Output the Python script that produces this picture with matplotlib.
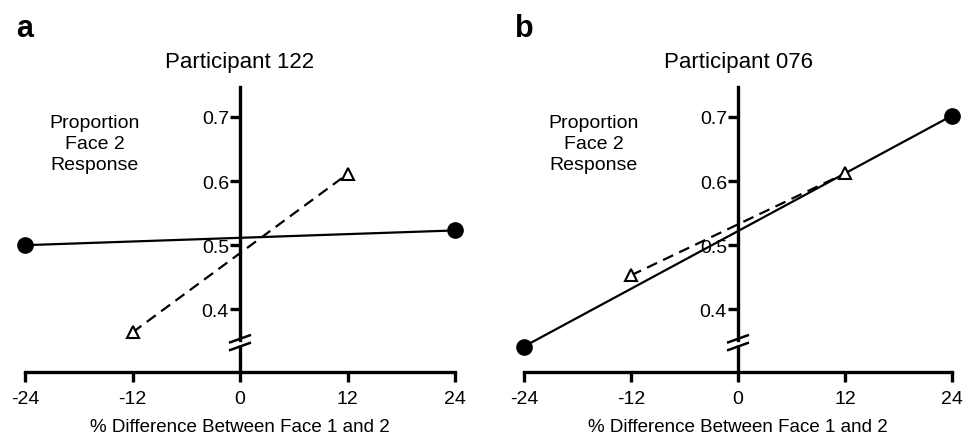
import matplotlib
matplotlib.use("Agg")
import matplotlib.pyplot as plt

plt.rcParams["font.family"] = ["Liberation Sans", "DejaVu Sans"]

# Données
niveaux = [-24, -12, 0, 12, 24]
x_cercles = [-24, 24]
x_triangles = [-12, 12]

p122_cercles = [0.500, 0.523]
p122_triangles = [0.364, 0.611]

p076_cercles = [0.342, 0.702]
p076_triangles = [0.453, 0.612]

panneaux = ["a", "b"]
titres = ["Participant 122", "Participant 076"]
y_ticks = [0.4, 0.5, 0.6, 0.7]
Y_MIN, Y_MAX = 0.302, 0.747

fig = plt.figure(figsize=(9.68, 4.39), dpi=100)
ax_a = fig.add_axes([25 / 968, 0.150, 430 / 968, 0.650])
ax_b = fig.add_axes([524 / 968, 0.150, 428 / 968, 0.650])


def tracer(ax, lettre, titre, cercles, triangles):
    """Trace un panneau avec axe y centré et coupure."""
    ax.plot(x_cercles, cercles, color="black", lw=1.6, marker="o",
            markersize=11, clip_on=False, zorder=4)
    ax.plot(x_triangles, triangles, color="black", lw=1.6, ls=(0, (5, 3)),
            marker="^", markersize=8.5, markerfacecolor="white",
            markeredgewidth=1.5, clip_on=False, zorder=5)

    ax.set_xlim(-24, 24)
    ax.set_ylim(Y_MIN, Y_MAX)
    for s in ["top", "right"]:
        ax.spines[s].set_visible(False)
    ax.spines["left"].set_position(("data", 0))
    ax.spines["left"].set_bounds(0.352, Y_MAX)
    ax.spines["left"].set_linewidth(2.4)
    ax.spines["bottom"].set_linewidth(2.4)
    ax.spines["left"].set_zorder(3)

    # partie basse de l'axe y sous la coupure
    ax.plot([0, 0], [Y_MIN, 0.344], color="black", lw=2.4, clip_on=False,
            solid_capstyle="butt", zorder=3)
    # marques de coupure
    for yc in [0.354, 0.342]:
        ax.plot([-1.1, 1.1], [yc - 0.0055, yc + 0.0055], color="black",
                lw=1.8, clip_on=False, zorder=3)

    ax.set_xticks(niveaux)
    ax.set_xticklabels([str(v) for v in niveaux])
    ax.set_yticks(y_ticks)
    ax.set_yticklabels([f"{v:.1f}" for v in y_ticks])
    ax.tick_params(axis="x", length=7, width=2.4, labelsize=14, pad=6)
    ax.tick_params(axis="y", length=7, width=2.4, labelsize=14, pad=1)

    ax.set_xlabel("% Difference Between Face 1 and 2", fontsize=13.5,
                  labelpad=8)
    ax.set_title(titre, fontsize=16, pad=14)
    ax.text(-16.2, 0.659, "Proportion\nFace 2\nResponse", ha="center",
            va="center", fontsize=14, linespacing=1.32)
    ax.text(-0.02, 1.26, lettre, transform=ax.transAxes, fontsize=22,
            fontweight="bold", ha="left", va="top")


tracer(ax_a, panneaux[0], titres[0], p122_cercles, p122_triangles)
tracer(ax_b, panneaux[1], titres[1], p076_cercles, p076_triangles)

fig.savefig("out.png", dpi=100)
